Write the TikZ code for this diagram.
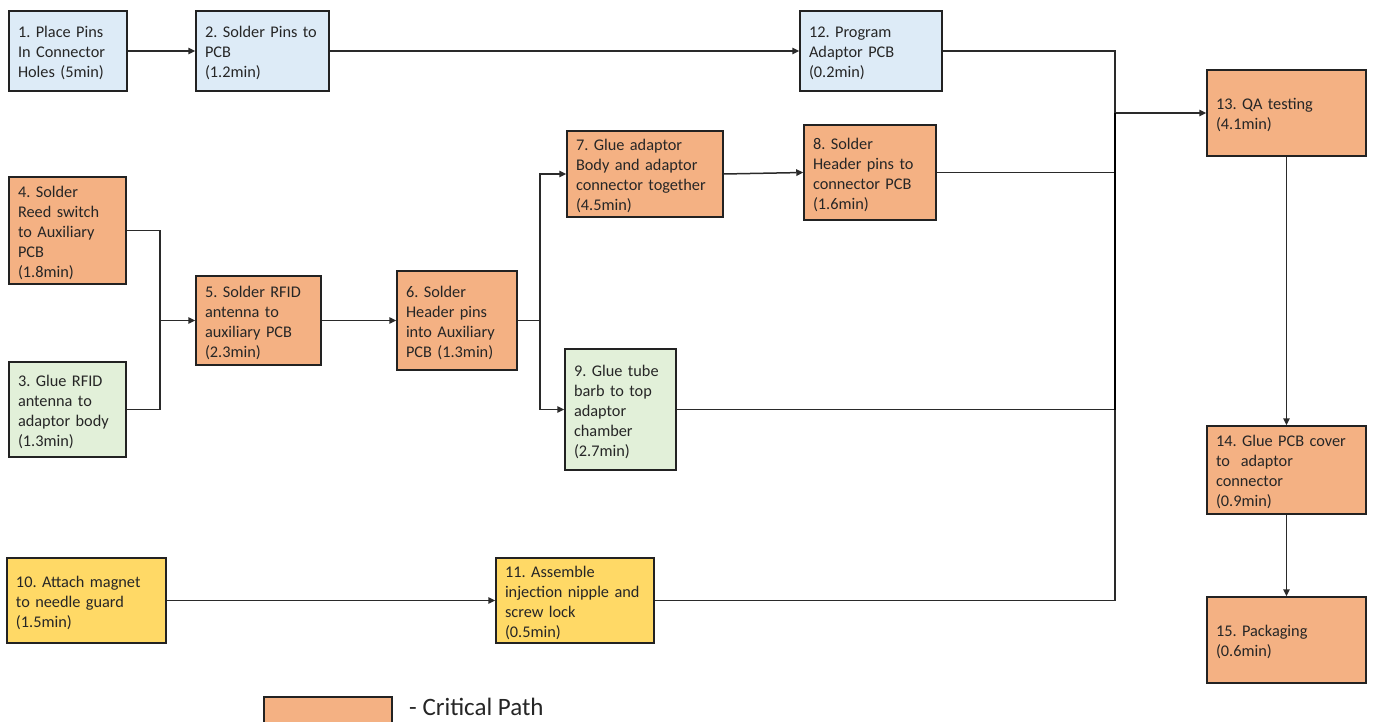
\documentclass[tikz,border=0pt]{standalone}
\usepackage{fontspec}
\setmainfont{Carlito}
\usetikzlibrary{arrows.meta}
\definecolor{cblue}{HTML}{DDEBF7}
\definecolor{corange}{HTML}{F4B183}
\definecolor{cgreen}{HTML}{E2F0D9}
\definecolor{cyellow}{HTML}{FFD966}
\definecolor{edge}{HTML}{222222}
\definecolor{wire}{HTML}{2A2A2A}
\frenchspacing
\tikzset{
  box/.style={draw=edge, line width=1.5pt, inner xsep=9pt, inner ysep=0pt, align=left,
    font=\fontsize{16.3}{20}\selectfont, text=black!85},
  wirestyle/.style={draw=wire, line width=1.5pt},
  arr/.style={wirestyle, -{Triangle[length=7pt,width=6.5pt]}},
}
\newcommand{\bx}[7]{% name, cx, cy, w, h, fill, text
  \node[box, fill=#6, minimum width=#4pt, minimum height=#5pt, text width=#4pt-18pt] (#1) at (#2,#3) {\rule{0pt}{4pt}\\[-8pt]#7};}
\begin{document}
\begin{tikzpicture}[x=1pt,y=-1pt]
\useasboundingbox (0,0) rectangle (1373,722);
\fill[white] (0,0) rectangle (1373,722);
\bx{n1}{68}{51}{118}{80}{cblue}{1. Place Pins\\In Connector\\Holes (5min)}
\bx{n2}{262.5}{51}{133}{80}{cblue}{2. Solder Pins to\\PCB\\(1.2min)}
\bx{n12}{871}{51}{142}{80}{cblue}{12. Program\\Adaptor PCB\\(0.2min)}
\bx{n13}{1286.5}{113}{159}{86}{corange}{13. QA testing\\(4.1min)}
\bx{n4}{67.5}{230.5}{117}{107}{corange}{4. Solder\\Reed switch\\to Auxiliary\\PCB\\(1.8min)}
\bx{n3}{67.5}{409.5}{117}{95}{cgreen}{3. Glue RFID\\antenna to\\adaptor body\\(1.3min)}
\bx{n5}{258.5}{320.5}{125}{89}{corange}{5. Solder RFID\\antenna to\\auxiliary PCB\\(2.3min)}
\bx{n6}{457}{320.5}{120}{99}{corange}{6. Solder\\Header pins\\into Auxiliary\\PCB (1.3min)}
\bx{n7}{645}{174}{156}{86}{corange}{7. Glue adaptor\\Body and adaptor\\connector together\\(4.5min)}
\bx{n8}{870}{172.5}{132}{95}{corange}{8. Solder\\Header pins to\\connector PCB\\(1.6min)}
\bx{n9}{620.5}{409.5}{111}{121}{cgreen}{9. Glue tube\\barb to top\\adaptor\\chamber\\(2.7min)}
\bx{n10}{86.5}{600.5}{159}{85}{cyellow}{10. Attach magnet\\to needle guard\\(1.5min)}
\bx{n11}{575}{600.5}{158}{85}{cyellow}{11. Assemble\\injection nipple and\\screw lock\\(0.5min)}
\bx{n14}{1286.5}{470}{159}{88}{corange}{14. Glue PCB cover\\to\ \ adaptor\\connector\\(0.9min)}
\bx{n15}{1286.5}{640}{159}{86}{corange}{15. Packaging\\(0.6min)}
% connectors
\coordinate (J) at (1115,113);
\coordinate (K) at (160,320.5);
\coordinate (L) at (540,320.5);
\draw[arr] (n1) -- (n2);
\draw[arr] (n2) -- (n12);
\draw[wirestyle] (n12.east) -| (J);
\draw[arr] (J) -- (n13.west);
\draw[wirestyle] (n8.east) -- (n8.east -| J);
\draw[wirestyle] (n9.east) -- (n9.east -| J);
\draw[wirestyle] (n11.east) -| (J);
\draw[draw=black, line width=2.2pt] (J) -- (n9.east -| J);
\draw[wirestyle] (n4.east) -| (K);
\draw[wirestyle] (n3.east) -| (K);
\draw[arr] (K) -- (n5);
\draw[arr] (n5) -- (n6);
\draw[wirestyle] (n6.east) -- (L);
\draw[arr] (L) |- (n7.west);
\draw[arr] (L) |- (n9.west);
\draw[arr] (n7.east) -- (n8.west);
\draw[arr] (n10) -- (n11);
\draw[arr] (n13) -- (n14);
\draw[arr] (n14) -- (n15);
% legend
\filldraw[fill=corange, draw=edge, line width=1.5pt] (264,724) -- (264,697) -- (392,697) -- (392,724);
\node[anchor=west, font=\fontsize{25}{27}\selectfont, inner sep=0pt, text=black!85] (leg) at (409,707) {- Critical Path};
\end{tikzpicture}
\end{document}
